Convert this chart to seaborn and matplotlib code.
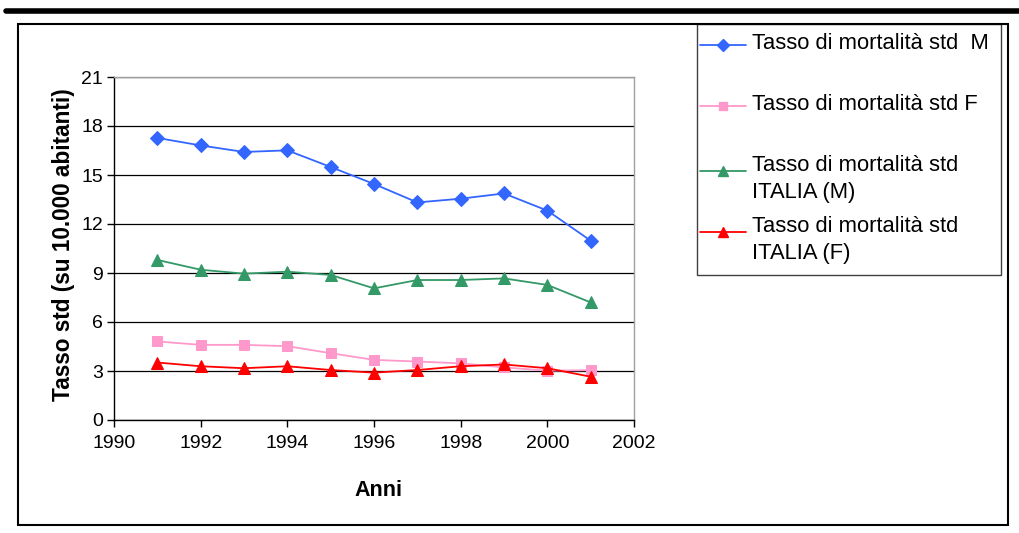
import pandas as pd
import seaborn as sns
import matplotlib.pyplot as plt
from matplotlib.patches import Rectangle
from matplotlib.lines import Line2D

# dati
anni = [1991, 1992, 1993, 1994, 1995, 1996, 1997, 1998, 1999, 2000, 2001]
tasso_m = [17.27, 16.81, 16.41, 16.51, 15.49, 14.45, 13.32, 13.55, 13.87, 12.82, 10.98]
tasso_f = [4.81, 4.60, 4.60, 4.52, 4.09, 3.68, 3.58, 3.47, 3.22, 3.02, 3.05]
italia_m = [9.80, 9.20, 8.96, 9.08, 8.88, 8.06, 8.57, 8.57, 8.67, 8.27, 7.20]
italia_f = [3.52, 3.29, 3.17, 3.29, 3.06, 2.90, 3.06, 3.29, 3.40, 3.17, 2.65]

serie = ["Tasso di mortalità std  M",
         "Tasso di mortalità std F",
         "Tasso di mortalità std\nITALIA (M)",
         "Tasso di mortalità std\nITALIA (F)"]
colori = ["#3366FF", "#FF99CC", "#339966", "#FF0000"]
marcatori = ["D", "s", "^", "^"]
dim_marc = [7.5, 7, 8, 8]

x_ticks = [1990, 1992, 1994, 1996, 1998, 2000, 2002]
y_ticks = [0, 3, 6, 9, 12, 15, 18, 21]

# =====================================================
# DATAFRAME LUNGO
# =====================================================

valori = [tasso_m, tasso_f, italia_m, italia_f]
righe = []
for nome, vals in zip(serie, valori):
    for a, v in zip(anni, vals):
        righe.append({"Anni": a, "Tasso": v, "Serie": nome})
df = pd.DataFrame(righe)

sns.set_style("white")
plt.rcParams["font.family"] = ["Liberation Sans", "DejaVu Sans"]
plt.rcParams["text.color"] = "black"
plt.rcParams["axes.labelcolor"] = "black"
plt.rcParams["xtick.color"] = "black"
plt.rcParams["ytick.color"] = "black"

fig = plt.figure(figsize=(10.2, 5.33), dpi=100)
ax = fig.add_axes([114 / 1020, 1 - 420 / 533, 520 / 1020, 343 / 533])

for nome, col, m, ms in zip(serie, colori, marcatori, dim_marc):
    sns.lineplot(
        data=df[df["Serie"] == nome], x="Anni", y="Tasso",
        color=col, marker=m, markersize=ms, markeredgecolor=col,
        linewidth=1.3, ax=ax, legend=False
    )

ax.set_xlim(1990, 2002)
ax.set_ylim(0, 21)
ax.set_xticks(x_ticks)
ax.set_yticks(y_ticks)
ax.tick_params(axis="both", labelsize=14, direction="out", length=5,
               width=1, color="black", left=True, bottom=True)
ax.tick_params(axis="x", pad=6)
ax.tick_params(axis="y", pad=3)

ax.set_axisbelow(True)
ax.yaxis.grid(True, color="black", linewidth=0.9)
ax.xaxis.grid(False)

for lato in ["left", "bottom"]:
    ax.spines[lato].set_color("black")
    ax.spines[lato].set_linewidth(1)
for lato in ["top", "right"]:
    ax.spines[lato].set_color("#A0A0A0")
    ax.spines[lato].set_linewidth(1)

ax.set_xlabel("Anni", fontsize=15.5, fontweight="bold")
ax.set_ylabel("Tasso std (su 10.000 abitanti)", fontsize=16.3, fontweight="bold")
ax.xaxis.set_label_coords(0.508, -0.175)
ax.yaxis.set_label_coords(-0.075, 0.51)

# =====================================================
# LEGENDA (costruita a mano, voci a passo regolare)
# =====================================================

y_voce = 45
for nome, col, m, ms in zip(serie, colori, marcatori, dim_marc):
    y_man = y_voce + (4 if "\n" in nome else 0)
    fig.add_artist(Line2D([700 / 1020, 746 / 1020],
                          [1 - y_man / 533, 1 - y_man / 533],
                          transform=fig.transFigure, color=col, linewidth=1.3))
    fig.add_artist(Line2D([723 / 1020], [1 - y_man / 533],
                          transform=fig.transFigure, color=col, marker=m,
                          markersize=ms - 1.5, markeredgecolor=col))
    fig.text(752 / 1020, 1 - (y_voce - 12) / 533, nome, fontsize=15.8,
             va="top", ha="left", linespacing=1.38)
    y_voce += 61

fig.add_artist(Rectangle((697 / 1020, 1 - 275 / 533), 304 / 1020, 251 / 533,
                         transform=fig.transFigure, fill=False,
                         edgecolor="#404040", linewidth=1))
fig.add_artist(Rectangle((18 / 1020, 1 - 525 / 533), 990 / 1020, 501 / 533,
                         transform=fig.transFigure, fill=False,
                         edgecolor="black", linewidth=1.5))
fig.add_artist(Line2D([6 / 1020, 1], [1 - 11 / 533, 1 - 11 / 533],
                      transform=fig.transFigure, color="black", linewidth=4))

fig.savefig("out.png", dpi=100)
plt.close(fig)
